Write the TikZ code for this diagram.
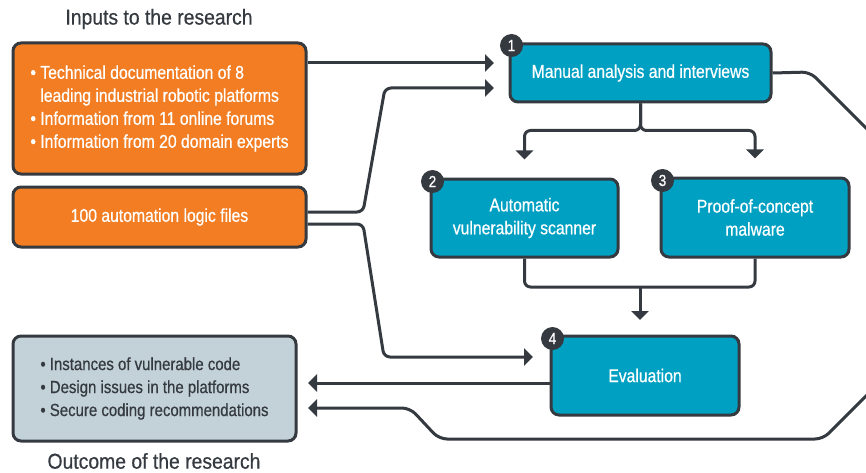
\documentclass[tikz,border=0pt]{standalone}
\usepackage{fontspec}
\setmainfont{Liberation Sans}[FakeStretch=0.85, FakeBold=0.6]
\newfontfamily\headfont{Liberation Sans}[FakeStretch=0.9, FakeBold=0.5]
\usetikzlibrary{arrows.meta}
\definecolor{inorange}{HTML}{F27D22}
\definecolor{stepteal}{HTML}{00A0C3}
\definecolor{outgray}{HTML}{C3D1D8}
\definecolor{linedark}{HTML}{343A40}
\tikzset{
  box/.style={
    rectangle,
    draw=linedark,
    line width=3pt,
    rounded corners=8pt,
    text=white,
    align=center,
    font=\fontsize{18.5}{23}\selectfont
  },
  inbox/.style={box, fill=inorange, minimum width=293pt},
  stepbox/.style={box, fill=stepteal},
  outbox/.style={box, fill=outgray, text=linedark, font=\fontsize{17.6}{23}\selectfont},
  badge/.style={circle, fill=linedark, text=white, inner sep=0pt, minimum size=23pt,
    font=\fontsize{16}{16}\selectfont},
  heading/.style={text=linedark, font=\headfont\fontsize{21.5}{24}\selectfont}
}
\tikzstyle{arrow} = [line width=3pt, draw=linedark, -{Triangle[width=17pt,length=9pt]}]
\tikzstyle{wire} = [line width=3pt, draw=linedark, rounded corners=6pt]
\def\bul{\textbullet\ }

\begin{document}
\begin{tikzpicture}[x=1pt, y=-1pt]
    \useasboundingbox (0,0) rectangle (866,473);
    \clip (0,0) rectangle (866,473);
    % inputs
    \node[heading] (intitle) at (159,19) {Inputs to the research};
    \node[inbox, minimum height=131pt, align=left] (docs) at (159.5,108.5)
      {\bul Technical documentation of 8\\\hphantom{\bul}leading industrial robotic platforms\\\bul Information from 11 online forums\\\bul Information from 20 domain experts};
    \node[inbox, minimum height=60pt] (logic) at (159.5,217) {100 automation logic files};
    % steps
    \node[stepbox, minimum width=261pt, minimum height=58pt] (manual) at (640.5,73) {Manual analysis and interviews};
    \node[stepbox, minimum width=187pt, minimum height=78pt] (scanner) at (524.5,218) {Automatic\\vulnerability scanner};
    \node[stepbox, minimum width=188pt, minimum height=79pt] (poc) at (755,217.5) {Proof-of-concept\\malware};
    \node[stepbox, minimum width=188pt, minimum height=79pt] (eval) at (645,375.5) {Evaluation};
    \node[badge] (n1) at ([shift={(3,3)}]manual.north west) {1};
    \node[badge] (n2) at ([shift={(3,4)}]scanner.north west) {2};
    \node[badge] (n3) at ([shift={(3,4)}]poc.north west) {3};
    \node[badge] (n4) at ([shift={(3,4)}]eval.north west) {4};
    % outcome
    \node[outbox, minimum width=283pt, minimum height=105pt, align=left] (outcome) at (154.5,388.5)
      {\bul Instances of vulnerable code\\\bul Design issues in the platforms\\\bul Secure coding recommendations};
    \node[heading] (outtitle) at (154,461) {Outcome of the research};
    % free ends
    \coordinate (m1) at (494,63);
    \coordinate (m2) at (494,88);
    \coordinate (e1) at (533,357);
    \coordinate (etop) at (640,320);
    \coordinate (join) at (640,287);
    \coordinate (o1) at (308,383);
    \coordinate (o2) at (308,408);
    % connectors
    \draw[arrow] (docs.east |- m1) -- (m1);
    \draw[arrow, rounded corners=6pt] ([yshift=5pt]logic.east) -- (363,212) -- (385,88) -- (m2);
    \draw[arrow, rounded corners=6pt] ([yshift=-7pt]logic.east) -- (363,224) -- (384,357) -- (e1);
    \draw[arrow, rounded corners=6pt] (manual.south) -- ++(0,27) -| ([yshift=18pt]scanner.north);
    \draw[arrow, rounded corners=6pt] (manual.south) -- ++(0,27) -| ([yshift=18pt]poc.north);
    \draw[wire] (scanner.south) |- (join) -| (poc.south);
    \draw[arrow] (join) -- (etop);
    \draw[arrow] (eval.west |- o1) -- (o1);
    \draw[arrow, rounded corners=8pt] (manual.east) -- (810,72) -- (882,144) -- (882,380) -- (823,439)
      -- (439,439) -- (410,408) -- (o2);
\end{tikzpicture}
\end{document}
